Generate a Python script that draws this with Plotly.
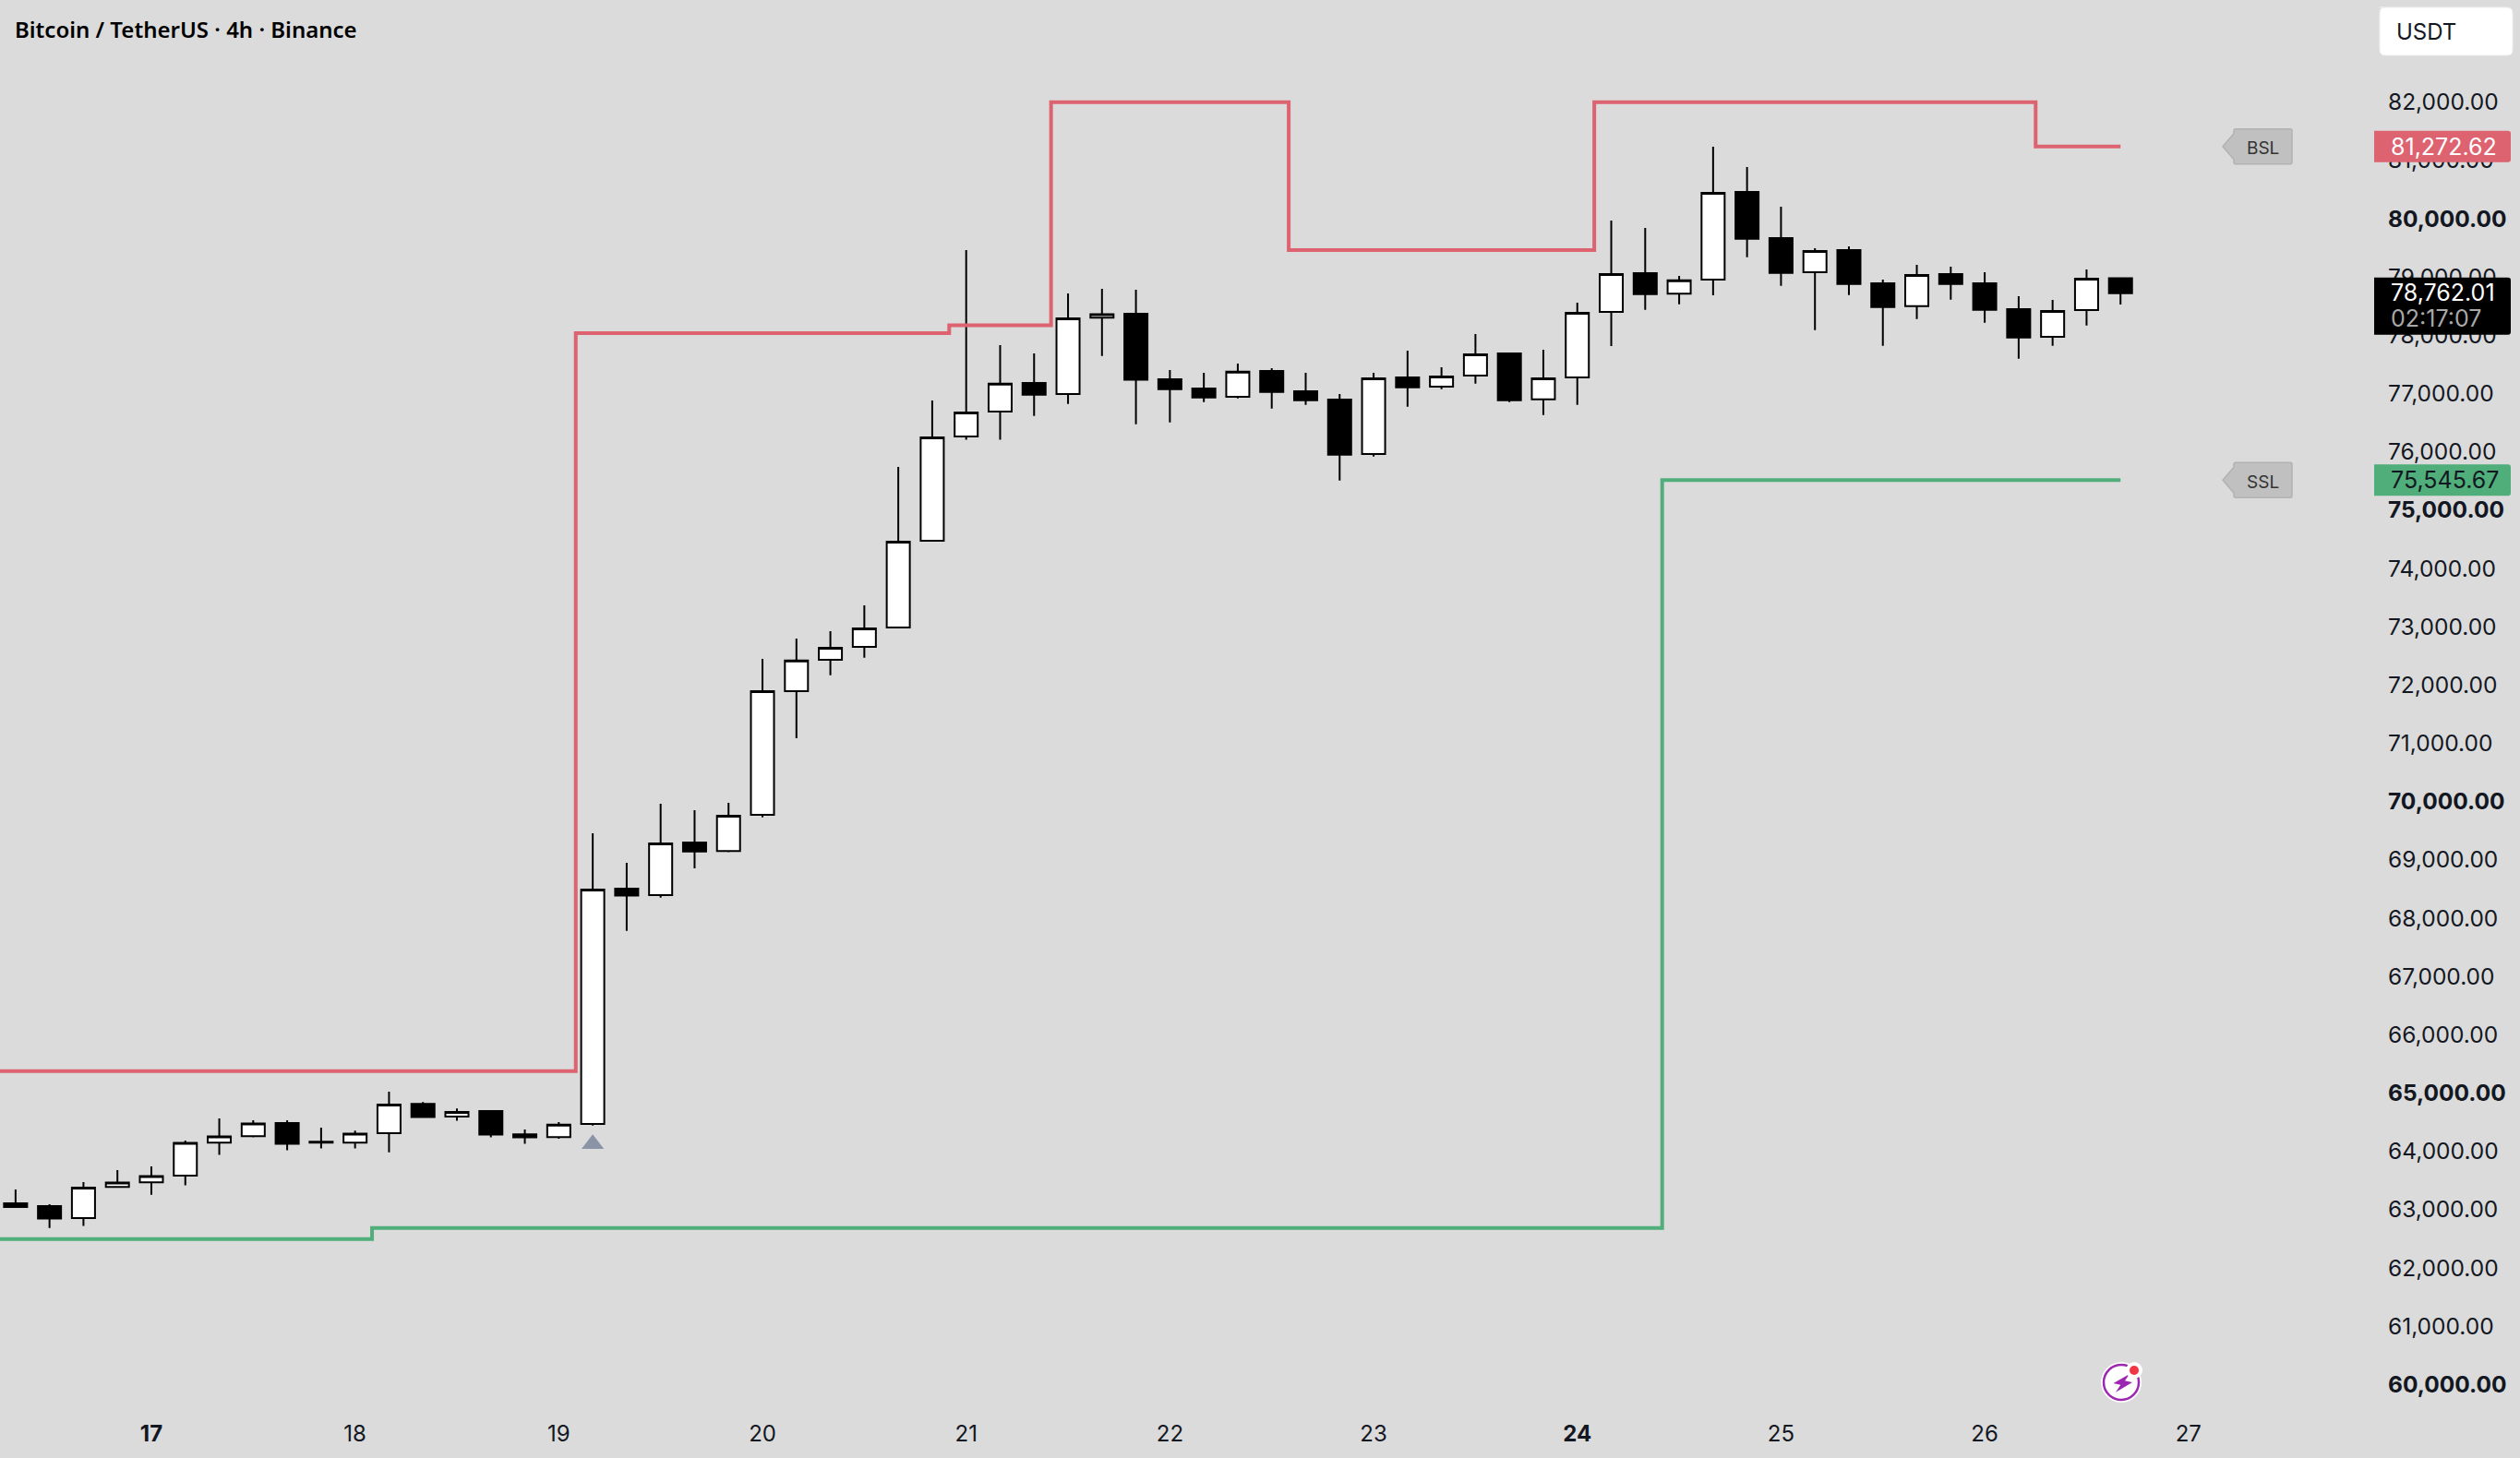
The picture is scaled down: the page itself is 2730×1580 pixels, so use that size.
import pandas as pd
import plotly.graph_objects as go

BG = "#dbdbdb"
RED = "#dc636f"
GREEN = "#4fae79"
FONT = "Inter"

title_text = "Bitcoin / TetherUS · 4h · Binance"

# 4h candles, first one is the 16th 08:00
candle_times = pd.date_range("2025-04-16 08:00", periods=63, freq="4h")

opens = [63110, 63063, 62857, 63390, 63469, 63585, 64150, 64261, 64488, 64166,
         64150, 64314, 64815, 64599, 64694, 64292, 64245, 64471, 68508, 68397,
         69300, 69152, 69774, 71895, 72434, 72655, 72988, 74476, 76265, 76692,
         77183, 76993, 78302, 78370, 77246, 77087, 76945, 77388, 77040, 76897,
         75963, 77277, 77119, 77309, 77689, 76902, 77277, 78401, 79066, 78713,
         78955, 80459, 79668, 79082, 79462, 78892, 78501, 79050, 78892, 78449,
         77974, 78433, 78979]
highs = [63348, 63095, 63475, 63680, 63744, 64187, 64567, 64535, 64535, 64409,
         64356, 65026, 64847, 64736, 64694, 64377, 64504, 69458, 68951, 69964,
         69854, 69980, 72449, 72798, 72924, 73367, 75742, 76882, 79463, 77832,
         77689, 78718, 78798, 78782, 77404, 77356, 77515, 77436, 77356, 76992,
         77356, 77736, 77451, 78021, 77705, 77752, 78559, 79968, 79842, 79019,
         81235, 80887, 80206, 79494, 79525, 78955, 79209, 79177, 79082, 78670,
         78607, 79129, 78987]
lows = [63040, 62688, 62720, 63385, 63258, 63417, 63939, 64240, 64018, 64050,
        64050, 63986, 64585, 64525, 64240, 64129, 64219, 64445, 67785, 68355,
        68856, 69131, 69732, 71088, 72170, 72470, 72985, 74470, 76207, 76207,
        76618, 76824, 77647, 76476, 76507, 76855, 76918, 76744, 76808, 75509,
        75921, 76776, 77077, 77172, 76855, 76633, 76808, 77815, 78438, 78533,
        78686, 79341, 78850, 78090, 78691, 77821, 78280, 78612, 78216, 77599,
        77821, 78169, 78530]
closes = [63047, 62847, 63380, 63464, 63575, 64145, 64256, 64477, 64129, 64150,
          64303, 64804, 64588, 64678, 64287, 64240, 64461, 68492, 68387, 69284,
          69146, 69759, 71895, 72423, 72639, 72972, 74460, 76249, 76676, 77172,
          76982, 78291, 78360, 77236, 77077, 76934, 77377, 77029, 76887, 75953,
          77261, 77108, 77293, 77673, 76887, 77261, 78385, 79050, 78707, 78945,
          80443, 79657, 79071, 79446, 78881, 78486, 79034, 78881, 78438, 77963,
          78417, 78971, 78722]

red_times = ["2025-04-16 00:00", "2025-04-19 02:00", "2025-04-20 22:00", "2025-04-21 10:00",
             "2025-04-22 14:00", "2025-04-24 02:00", "2025-04-26 06:00", "2025-04-26 16:00"]
red_levels = [65376, 78038, 78170, 82000, 79463, 82000, 81240, 81240]

green_times = ["2025-04-16 00:00", "2025-04-18 02:00", "2025-04-24 10:00", "2025-04-26 16:00"]
green_levels = [62495, 62686, 75515, 75515]

signal_time = ["2025-04-19 04:00"]
signal_price = [64125]

price_ticks = [82000 - 1000 * i for i in range(23)]
day_ticks = [f"2025-04-{d} 00:00" for d in range(17, 28)]
day_labels = ["<b>17</b>", "18", "19", "20", "21", "22", "23", "<b>24</b>", "25", "26", "27"]


def price_label(p):
    s = f"{p:,.2f}"
    return f"<b>{s}</b>" if p % 5000 == 0 else s


def right_shape(**kw):
    # pixel sized shape hung off the right edge of the plot, y from the price axis
    return dict(xref="paper", xsizemode="pixel", xanchor=1, yref="y", ysizemode="pixel", **kw)


def corner_shape(**kw):
    # pixel sized shape hung off the top right corner of the plot
    return dict(xref="paper", xsizemode="pixel", xanchor=1, yref="paper", ysizemode="pixel", yanchor=1, **kw)


def tag_path(top, bottom):
    return (f"M 2 {top} L 147 {top} Q 150 {top} 150 {top - 3} L 150 {bottom + 3} "
            f"Q 150 {bottom} 147 {bottom} L 2 {bottom} Z")


def callout_path():
    return ("M -162 0 L -150 -14 L -150 -17 Q -150 -19 -148 -19 L -89 -19 Q -87 -19 -87 -17 "
            "L -87 17 Q -87 19 -89 19 L -148 19 Q -150 19 -150 17 L -150 14 Z")


fig = go.Figure()

fig.add_trace(go.Candlestick(x=candle_times, open=opens, high=highs, low=lows, close=closes,
                             increasing=dict(fillcolor="white", line=dict(color="black", width=2)),
                             decreasing=dict(fillcolor="black", line=dict(color="black", width=2)),
                             whiskerwidth=0, hoverinfo="skip", showlegend=False))
fig.add_trace(go.Scatter(x=red_times, y=red_levels, mode="lines",
                         line=dict(color=RED, width=4, shape="hv"), hoverinfo="skip", showlegend=False))
fig.add_trace(go.Scatter(x=green_times, y=green_levels, mode="lines",
                         line=dict(color=GREEN, width=4, shape="hv"), hoverinfo="skip", showlegend=False))
fig.add_trace(go.Scatter(x=signal_time, y=signal_price, mode="markers",
                         marker=dict(symbol="triangle-up", size=21, color="#8a94a6"),
                         hoverinfo="skip", showlegend=False))

shapes = [
    # price tags
    right_shape(type="path", yanchor=red_levels[-1], path=tag_path(17, -17), fillcolor=RED, line_width=0),
    right_shape(type="path", yanchor=green_levels[-1], path=tag_path(17, -17), fillcolor=GREEN, line_width=0),
    right_shape(type="path", yanchor=closes[-1], path=tag_path(17, -45), fillcolor="black", line_width=0),
    # BSL / SSL callouts
    right_shape(type="path", yanchor=red_levels[-1], path=callout_path(), fillcolor="#c0c0c0",
                line=dict(color="#b2b2b2", width=1.5)),
    right_shape(type="path", yanchor=green_levels[-1], path=callout_path(), fillcolor="#c0c0c0",
                line=dict(color="#b2b2b2", width=1.5)),
    # USDT box
    corner_shape(type="path", fillcolor="white", line=dict(color="#eeeeee", width=1),
                 path="M 8 -8 L 146 -8 Q 152 -8 152 -14 L 152 -54 Q 152 -60 146 -60 L 14 -60 "
                      "Q 8 -60 8 -54 L 8 -14 Q 8 -8 14 -8 Z"),
    # lightning icon
    corner_shape(type="circle", x0=-294, x1=-250, y0=-1520, y1=-1476, fillcolor="white", line_width=0),
    corner_shape(type="circle", x0=-291, x1=-253, y0=-1517, y1=-1479, fillcolor="white",
                 line=dict(color="#9c27b0", width=2.5)),
    corner_shape(type="path", fillcolor="#9c27b0", line_width=0,
                 path="M -263 -1489 L -280.5 -1499 L -272.7 -1500.7 L -278 -1508.7 L -260 -1498 L -268 -1496.3 Z"),
    corner_shape(type="circle", x0=-267, x1=-249, y0=-1494, y1=-1476, fillcolor="white", line_width=0),
    corner_shape(type="circle", x0=-263, x1=-253, y0=-1490, y1=-1480, fillcolor="#f23645", line_width=0),
]

annotations = [
    dict(text=title_text, xref="paper", yref="paper", x=0, y=1, xanchor="left", yanchor="middle",
         xshift=14, yshift=-31, showarrow=False,
         font=dict(family="Noto Sans", size=24, color="#000000", weight=600)),
    dict(text="USDT", xref="paper", yref="paper", x=1, y=1, xanchor="left", yanchor="middle",
         xshift=24, yshift=-34, showarrow=False, font=dict(family=FONT, size=24, color="#131722")),
]
for price, text, color in [(red_levels[-1], "81,272.62", "white"),
                           (green_levels[-1], "75,545.67", "#131722")]:
    annotations.append(dict(text=text, xref="paper", yref="y", x=1, y=price, xanchor="left", yanchor="middle",
                            xshift=18, yshift=0, showarrow=False, font=dict(family=FONT, size=25, color=color)))
annotations.append(dict(text="78,762.01", xref="paper", yref="y", x=1, y=closes[-1], xanchor="left",
                        yanchor="middle", xshift=18, yshift=1, showarrow=False,
                        font=dict(family=FONT, size=25, color="white")))
annotations.append(dict(text="02:17:07", xref="paper", yref="y", x=1, y=closes[-1], xanchor="left",
                        yanchor="middle", xshift=18, yshift=-27, showarrow=False,
                        font=dict(family=FONT, size=25, color="#a8a8a8")))
for price, text in [(red_levels[-1], "BSL"), (green_levels[-1], "SSL")]:
    annotations.append(dict(text=text, xref="paper", yref="y", x=1, y=price, xanchor="center", yanchor="middle",
                            xshift=-119, yshift=-2, showarrow=False, font=dict(family=FONT, size=19, color="#333333")))

fig.update_layout(width=2730, height=1580,
                  margin=dict(l=0, r=160, t=0, b=50),
                  paper_bgcolor=BG, plot_bgcolor=BG,
                  boxgap=0.32, boxgroupgap=0, showlegend=False,
                  shapes=shapes, annotations=annotations,
                  font=dict(family=FONT, size=24, color="#131722"))
fig.update_xaxes(type="date", range=["2025-04-16 06:10", "2025-04-27 21:40"],
                 rangeslider_visible=False, showgrid=False, zeroline=False, showline=False,
                 tickmode="array", tickvals=day_ticks, ticktext=day_labels, ticks="",
                 ticklabelstandoff=7, tickangle=0)
fig.update_yaxes(range=[59532, 83752], side="right",
                 showgrid=False, zeroline=False, showline=False,
                 tickmode="array", tickvals=price_ticks, ticktext=[price_label(p) for p in price_ticks],
                 ticks="", ticklabelstandoff=16, tickfont_size=24.5)

fig.write_html("out.html", config=dict(displayModeBar=False),
               post_script="document.body.style.margin='0';document.body.style.overflow='hidden';")
